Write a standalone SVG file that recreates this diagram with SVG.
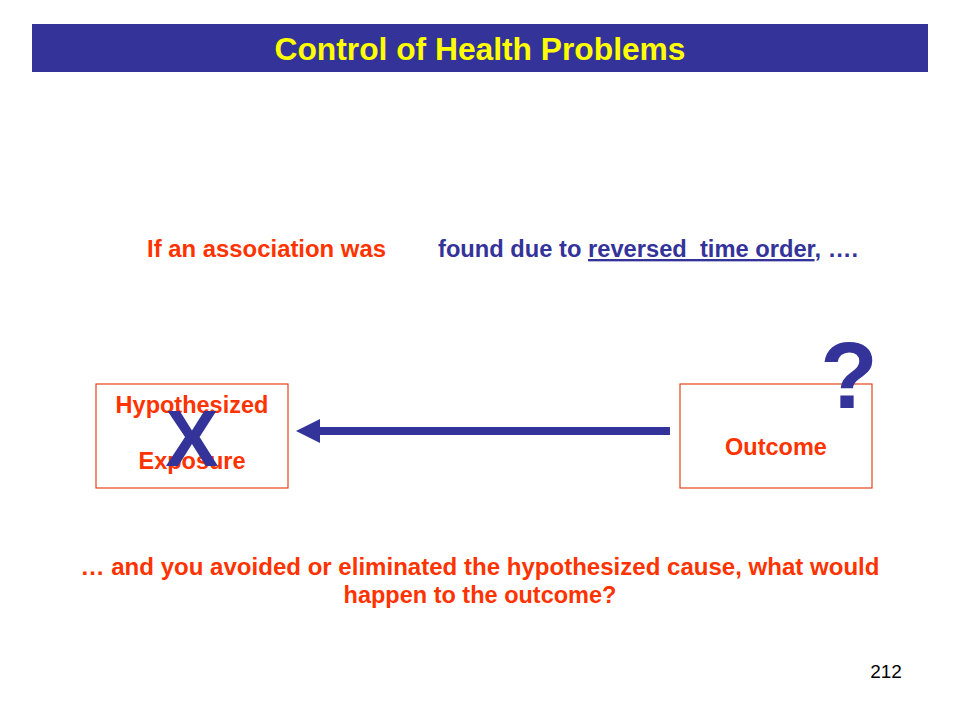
<svg xmlns="http://www.w3.org/2000/svg" width="960" height="720" viewBox="0 0 960 720">
<style>
text{font-family:"Liberation Sans",Arial,sans-serif;font-weight:bold}
.r{fill:#FF3300}
.b{fill:#333399}
.box{fill:#fff;stroke:#E8401C;stroke-width:1.2}
.t{font-size:23.5px}
</style>
<rect width="960" height="720" fill="#fff"/>
<g id="title">
<rect x="32" y="24" width="896" height="48" fill="#333399"/>
<text x="480" y="60" text-anchor="middle" font-size="31" fill="#FFFF00" textLength="411" lengthAdjust="spacingAndGlyphs">Control of Health Problems</text>
</g>
<g id="intro">
<text class="r t" x="147" y="257" textLength="239" lengthAdjust="spacingAndGlyphs">If an association was</text>
<text class="b t" x="438" y="257" textLength="420" lengthAdjust="spacingAndGlyphs" xml:space="preserve">found due to <tspan text-decoration="underline">reversed  time order</tspan>, ….</text>
</g>
<g id="connectors">
<rect x="318" y="427" width="352" height="8" fill="#333399"/>
<polygon points="296,431 320,419 320,443" fill="#333399"/>
</g>
<g id="exposure">
<rect class="box" x="96" y="384" width="192" height="104"/>
<text class="r t" x="192" y="413" text-anchor="middle">Hypothesized</text>
<text class="r t" x="192" y="469" text-anchor="middle">Exposure</text>
<text class="b" x="192" y="466" font-size="80" text-anchor="middle">X</text>
</g>
<g id="outcome">
<rect class="box" x="680" y="384" width="192" height="104"/>
<text class="r t" x="776" y="455" text-anchor="middle">Outcome</text>
<text class="b" x="849" y="408" font-size="94" text-anchor="middle">?</text>
</g>
<g id="question">
<text class="r t" x="480" y="575" text-anchor="middle" textLength="799" lengthAdjust="spacingAndGlyphs">… and you avoided or eliminated the hypothesized cause, what would</text>
<text class="r t" x="480" y="603" text-anchor="middle">happen to the outcome?</text>
</g>
<text x="886" y="678" font-size="19" text-anchor="middle" style="font-weight:normal" fill="#000">212</text>
</svg>
